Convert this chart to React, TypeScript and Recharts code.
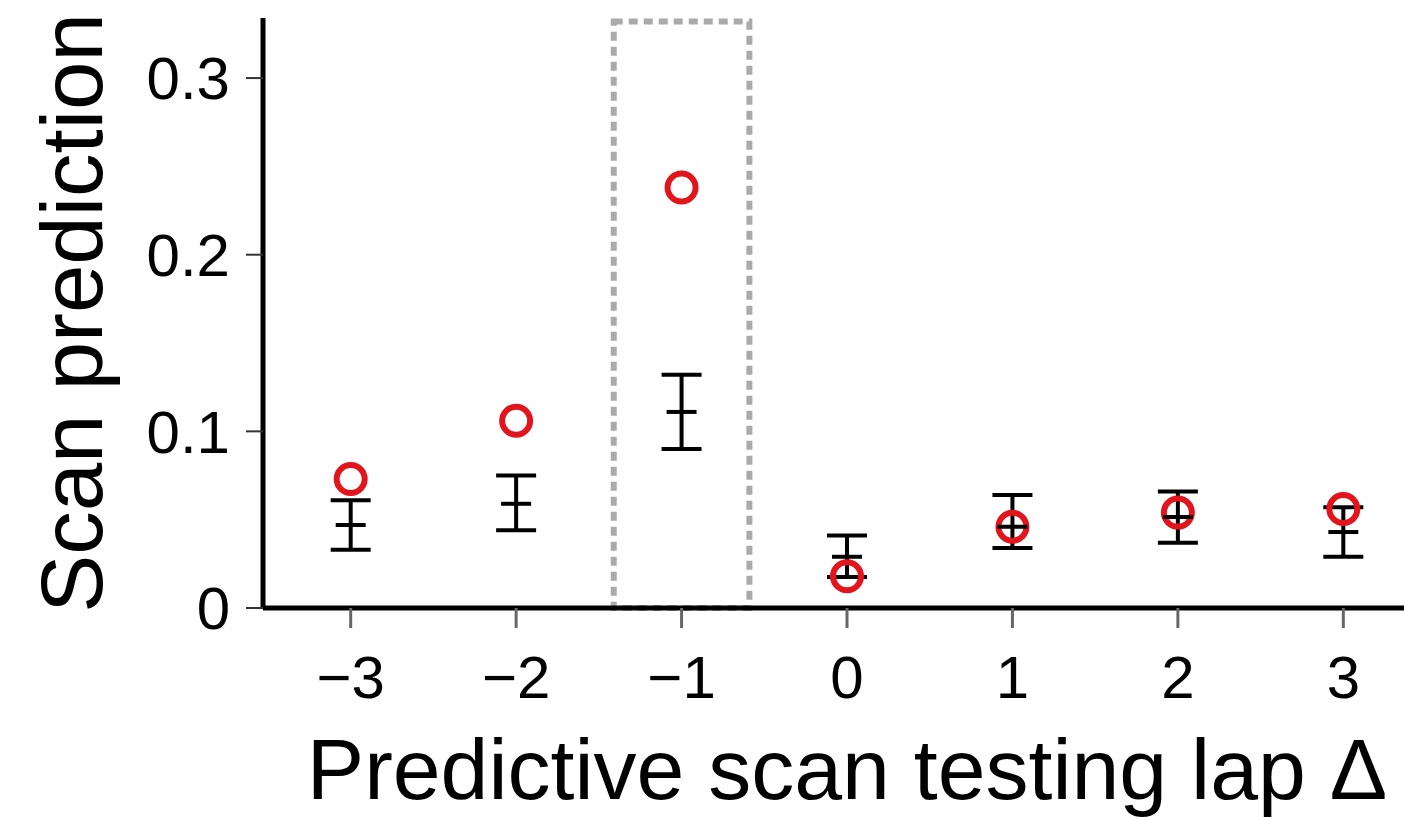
import { ComposedChart, Scatter, XAxis, YAxis, ErrorBar, ReferenceArea, Label } from 'recharts';

// lap offsets and per-lap values
const LAPS = [-3, -2, -1, 0, 1, 2, 3];
const ACTUAL = [0.073, 0.106, 0.238, 0.018, 0.046, 0.054, 0.056];
const SHUFFLE_MEAN = [0.047, 0.059, 0.111, 0.029, 0.046, 0.0515, 0.043];
const SHUFFLE_LOW = [0.033, 0.044, 0.09, 0.0175, 0.034, 0.037, 0.029];
const SHUFFLE_HIGH = [0.061, 0.075, 0.132, 0.041, 0.064, 0.066, 0.057];
const Y_TICKS = [0, 0.1, 0.2, 0.3];
const HIGHLIGHT_LAP = -1;

const FONT = '"Liberation Sans", Arial, Helvetica, sans-serif';
const RED = '#e2141c';

const actualData = LAPS.map((lap, i) => ({ lap, value: ACTUAL[i] }));
const shuffleData = LAPS.map((lap, i) => ({
  lap,
  value: SHUFFLE_MEAN[i],
  err: [SHUFFLE_MEAN[i] - SHUFFLE_LOW[i], SHUFFLE_HIGH[i] - SHUFFLE_MEAN[i]],
}));

const formatLap = (v: number) => (v < 0 ? `\u2212${Math.abs(v)}` : String(v));
const formatProb = (v: number) => (v === 0 ? '0' : v.toFixed(1));

const Ring = (props: any) => (
  <circle cx={props.cx} cy={props.cy} r={14} fill="none" stroke={RED} strokeWidth={6} />
);

const MeanTick = (props: any) => (
  <line x1={props.cx - 15} x2={props.cx + 15} y1={props.cy} y2={props.cy} stroke="#000" strokeWidth={4} />
);

const YTitle = ({ viewBox }: any) => {
  const x = viewBox.x + viewBox.width - 161;
  const y = viewBox.y + viewBox.height / 2;
  return (
    <text x={x} y={y} transform={`rotate(-90, ${x}, ${y})`} textAnchor="middle"
      fontSize={87} fontFamily={FONT} fill="#000">
      Scan prediction
    </text>
  );
};

const XTitle = ({ viewBox }: any) => (
  <text x={viewBox.x + viewBox.width / 2} y={viewBox.y + 191} textAnchor="middle"
    fontSize={86} fontFamily={FONT} fill="#000">
    Predictive scan testing lap {'\u0394'}
  </text>
);

export default function App() {
  return (
    <div style={{ position: 'absolute', top: 0, left: 0, width: 1404, height: 817, overflow: 'hidden', background: '#fff' }}>
      <ComposedChart width={1440} height={817} margin={{ top: 18, right: 9, bottom: 9, left: 113 }}>
        <XAxis
          type="number"
          dataKey="lap"
          domain={[-3.53, 3.53]}
          ticks={LAPS}
          tickFormatter={formatLap}
          allowDataOverflow
          height={200}
          tickSize={20}
          tickMargin={27}
          tick={{ fontSize: 60, fill: '#000', fontFamily: FONT }}
          tickLine={{ stroke: '#666', strokeWidth: 3 }}
          axisLine={{ stroke: '#000', strokeWidth: 5 }}
        >
          <Label content={<XTitle />} />
        </XAxis>
        <YAxis
          type="number"
          dataKey="value"
          domain={[0, 0.334]}
          ticks={Y_TICKS}
          tickFormatter={formatProb}
          allowDataOverflow
          width={150}
          tickSize={17}
          tickMargin={16}
          tick={{ fontSize: 60, fill: '#000', fontFamily: FONT }}
          tickLine={{ stroke: '#333', strokeWidth: 2 }}
          axisLine={{ stroke: '#000', strokeWidth: 5 }}
        >
          <Label content={<YTitle />} />
        </YAxis>
        <ReferenceArea
          x1={HIGHLIGHT_LAP - 0.41}
          x2={HIGHLIGHT_LAP + 0.41}
          y1={0}
          y2={0.332}
          fill="none"
          fillOpacity={0}
          stroke="#aaaaaa"
          strokeWidth={6}
          strokeDasharray="9 6"
        />
        <Scatter data={actualData} dataKey="value" shape={<Ring />} isAnimationActive={false} />
        <Scatter data={shuffleData} dataKey="value" shape={<MeanTick />} isAnimationActive={false}>
          <ErrorBar dataKey="err" direction="y" width={20} stroke="#000" strokeWidth={4} isAnimationActive={false} />
        </Scatter>
      </ComposedChart>
    </div>
  );
}
